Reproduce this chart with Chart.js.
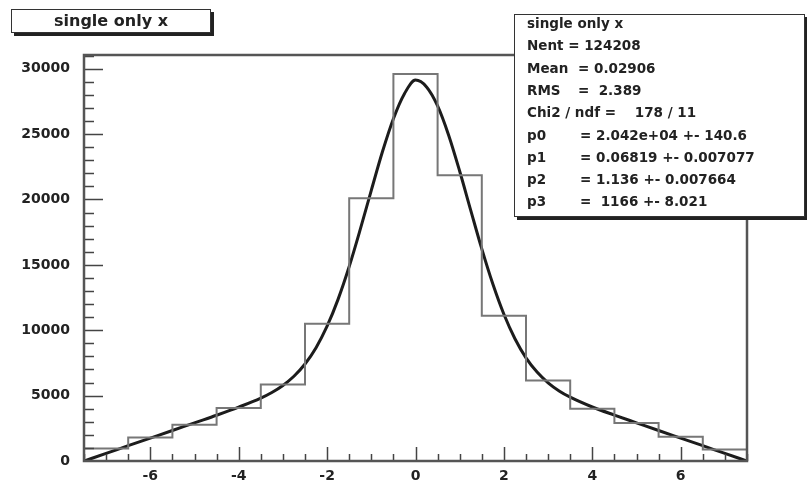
<!DOCTYPE html>
<html>
<head>
<meta charset="utf-8">
<script src="https://cdn.jsdelivr.net/npm/chart.js@4.4.1/dist/chart.umd.min.js"></script>
<style>
  html, body { margin: 0; padding: 0; background: #fff; }
  #wrap { position: relative; width: 807px; height: 489px; overflow: hidden; }
  #plot { position: absolute; left: 0; top: 0; }
  .box {
    position: absolute; box-sizing: border-box; background: #fff;
    border: 1px solid #333; box-shadow: 3px 3px 0 #222;
    font-family: "DejaVu Sans", sans-serif; font-weight: bold; color: #222;
  }
  #titleBox { left: 11px; top: 9px; width: 200px; height: 24px;
    font-size: 16px; line-height: 22px; text-align: center; }
  #statsBox { left: 514px; top: 14px; width: 291px; height: 203px; font-size: 13.5px; }
  #statsBox .ln { position: absolute; left: 12px; height: 18px; line-height: 18px; white-space: pre; }
  #statsBox .val { position: absolute; white-space: pre; }
</style>
</head>
<body>
<div id="wrap">
  <canvas id="plot" width="807" height="489"></canvas>
  <div class="box" id="titleBox">single only x</div>
  <div class="box" id="statsBox"></div>
</div>
<script>
/* --------------- Histogram: bin centres and counts --------------------- */
const binCenters = [-7, -6, -5, -4, -3, -2, -1, 0, 1, 2, 3, 4, 5, 6, 7];
const binCounts = [950, 1800, 2780, 4060, 5850, 10500, 20100, 29600, 21850, 11100, 6150, 4000, 2900, 1850, 880];
const binWidth = 1;

/* --------------- Fit curve ------------------------------------------- */
const fitX = [-7.5, -7, -6.5, -6, -5.5, -5, -4.5, -4, -3.5, -3.25, -3, -2.75, -2.5, -2.25, -2, -1.75, -1.5, -1.25, -1, -0.75, -0.5, -0.25, 0,
  0.25, 0.5, 0.75, 1, 1.25, 1.5, 1.75, 2, 2.25, 2.5, 2.75, 3, 3.25, 3.5, 4, 4.5, 5, 5.5, 6, 6.5, 7, 7.5];
const fitY = [0, 580, 1170, 1750, 2330, 2920, 3500, 4120, 4810, 5240, 5780, 6480, 7420, 8670, 10310, 12380, 14870, 17710, 20700, 23630, 26180, 28090, 29130,
  28610, 27160, 24920, 22160, 19170, 16220, 13530, 11220, 9350, 7890, 6800, 5980, 5360, 4880, 4130, 3510, 2920, 2330, 1750, 1170, 580, 0];

/* --------------- Axis ranges and tick labels --------------------- */
const xRange = [-7.5, 7.5];
const yRange = [0, 31050];
const xTickLabels = [-6, -4, -2, 0, 2, 4, 6];
const yTickLabels = [0, 5000, 10000, 15000, 20000, 25000, 30000];

/* --------------- Stats box text --------------------- */
const statsLines = [
  ['single only x', ''],
  ['Nent = 124208', ''],
  ['Mean', '= 0.02906'],
  ['RMS', '=  2.389'],
  ['Chi2 / ndf =    178 / 11', ''],
  ['p0', '= 2.042e+04 +- 140.6'],
  ['p1', '= 0.06819 +- 0.007077'],
  ['p2', '= 1.136 +- 0.007664'],
  ['p3', '=  1166 +- 8.021'],
];
const statsBox = document.getElementById('statsBox');
statsLines.forEach((l, i) => {
  const d = document.createElement('div');
  d.className = 'ln';
  d.style.top = (-1 + i * 22.3) + 'px';
  d.textContent = l[0];
  if (l[1]) {
    const v = document.createElement('span');
    v.className = 'val';
    v.style.left = (i >= 5 ? 53 : 51) + 'px';
    v.textContent = l[1];
    d.appendChild(v);
  }
  statsBox.appendChild(d);
});

/* --------------- Histogram outline points --------------------- */
// each point sits on a bin's left edge; 'before' steps draw the flat top first
const histPoints = [{ x: binCenters[0] - binWidth / 2, y: 0 }];
binCenters.forEach((c, i) => histPoints.push({ x: c - binWidth / 2, y: binCounts[i] }));
histPoints.push({ x: binCenters[binCenters.length - 1] + binWidth / 2, y: binCounts[binCounts.length - 1] });
histPoints.push({ x: binCenters[binCenters.length - 1] + binWidth / 2, y: 0 });

const fitPoints = fitX.map((x, i) => ({ x: x, y: fitY[i] }));

/* --------------- Frame and inward ticks (ROOT style) --------------------- */
const frameTicks = {
  id: 'frameTicks',
  afterDatasetsDraw(chart) {
    const { ctx, chartArea: a, scales } = chart;
    const xs = scales.x, ys = scales.y;
    ctx.save();
    ctx.strokeStyle = '#444';
    ctx.lineWidth = 1.5;
    ctx.beginPath();
    for (let v = -7.5; v <= 7.5001; v += 0.5) {
      const px = Math.round(xs.getPixelForValue(v)) + 0.5;
      const major = Math.abs(v % 2) < 1e-6;
      ctx.moveTo(px, a.bottom);
      ctx.lineTo(px, a.bottom - (major ? 14 : 7));
    }
    for (let v = 1000; v <= 31000; v += 1000) {
      const py = Math.round(ys.getPixelForValue(v)) + 0.5;
      const major = v % 5000 === 0;
      ctx.moveTo(a.left, py);
      ctx.lineTo(a.left + (major ? 19 : 10), py);
    }
    ctx.stroke();
    ctx.strokeStyle = '#555';
    ctx.lineWidth = 2.5;
    ctx.strokeRect(a.left, a.top, a.right - a.left, a.bottom - a.top);
    ctx.restore();
  },
};

const labelFont = { family: 'DejaVu Sans', size: 14, weight: 'bold' };

new Chart(document.getElementById('plot'), {
  type: 'line',
  plugins: [frameTicks],
  data: {
    datasets: [
      {
        label: 'histogram',
        data: histPoints,
        stepped: 'before',
        borderColor: '#777',
        borderWidth: 2,
        pointRadius: 0,
        fill: false,
      },
      {
        label: 'fit',
        data: fitPoints,
        cubicInterpolationMode: 'monotone',
        borderColor: '#1c1c1c',
        borderWidth: 3,
        pointRadius: 0,
        fill: false,
      },
    ],
  },
  options: {
    responsive: false,
    animation: false,
    layout: { padding: { left: 0, top: 55, right: 60, bottom: 0 } },
    plugins: { legend: { display: false }, tooltip: { enabled: false }, title: { display: false } },
    scales: {
      x: {
        type: 'linear',
        min: xRange[0],
        max: xRange[1],
        afterFit: (s) => { s.height = 28; },
        afterBuildTicks: (s) => { s.ticks = xTickLabels.map((v) => ({ value: v })); },
        grid: { display: false, drawTicks: false },
        border: { display: false },
        ticks: {
          autoSkip: false, maxRotation: 0, padding: 7, color: '#222', font: labelFont,
          callback: (v) => String(v),
        },
      },
      y: {
        type: 'linear',
        min: yRange[0],
        max: yRange[1],
        afterFit: (s) => { s.width = 84; },
        afterBuildTicks: (s) => { s.ticks = yTickLabels.map((v) => ({ value: v })); },
        grid: { display: false, drawTicks: false },
        border: { display: false },
        ticks: {
          autoSkip: false, padding: 14, color: '#222', font: labelFont,
          callback: (v) => String(v),
        },
      },
    },
  },
});
</script>
</body>
</html>
